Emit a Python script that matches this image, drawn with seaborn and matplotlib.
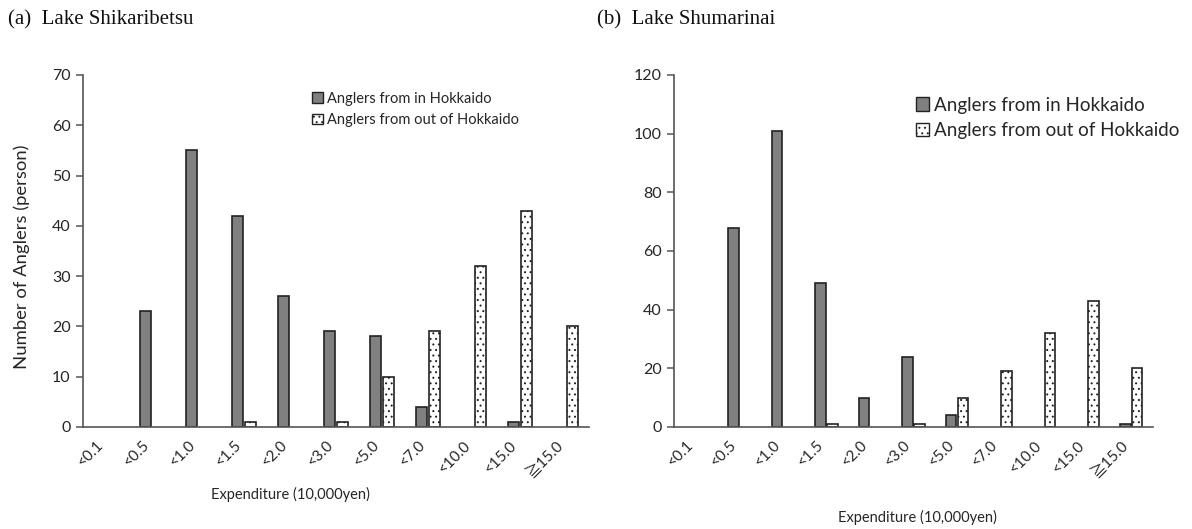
import matplotlib
matplotlib.use("Agg")
import matplotlib.pyplot as plt
from matplotlib.patches import Patch
import seaborn as sns
import pandas as pd

# Expenditure classes (10,000 yen)
categories = ["<0.1", "<0.5", "<1.0", "<1.5", "<2.0", "<3.0", "<5.0",
              "<7.0", "<10.0", "<15.0", "≧15.0"]

# (a) Lake Shikaribetsu
shika_in = [0, 23, 55, 42, 26, 19, 18, 4, 0, 1, 0]
shika_out = [0, 0, 0, 1, 0, 1, 10, 19, 32, 43, 20]

# (b) Lake Shumarinai
shuma_in = [0, 68, 101, 49, 10, 24, 4, 0, 0, 0, 1]
shuma_out = [0, 0, 0, 1, 0, 1, 10, 19, 32, 43, 20]

groups = ["Anglers from in Hokkaido", "Anglers from out of Hokkaido"]
yticks_a = [0, 10, 20, 30, 40, 50, 60, 70]
yticks_b = [0, 20, 40, 60, 80, 100, 120]


def long_form(v_in, v_out):
    return pd.DataFrame({
        "Expenditure": categories * 2,
        "Anglers": list(v_in) + list(v_out),
        "Group": [groups[0]] * len(categories) + [groups[1]] * len(categories),
    })


sns.set_theme(style="white")
plt.rcParams["font.family"] = ["Lato", "Noto Sans CJK JP"]
plt.rcParams["hatch.linewidth"] = 0.7
plt.rcParams["hatch.color"] = "#333333"

W, H = 1192, 529
fig = plt.figure(figsize=(W / 100, H / 100), dpi=100)

axis_col = "#555555"
text_col = "#262626"
palette = {groups[0]: "#808080", groups[1]: "#ffffff"}


def draw_panel(rect, v_in, v_out, yticks, ymax):
    ax = fig.add_axes([rect[0] / W, 1 - rect[3] / H,
                       (rect[2] - rect[0]) / W, (rect[3] - rect[1]) / H])
    sns.barplot(data=long_form(v_in, v_out), x="Expenditure", y="Anglers",
                hue="Group", palette=palette, order=categories,
                hue_order=groups, width=0.54, gap=0.1,
                edgecolor="#222222", linewidth=1.2, legend=False, ax=ax)
    for bar in ax.containers[1]:
        bar.set_hatch("...")
    # empty classes leave no mark on the baseline
    for cont in ax.containers:
        for bar in cont:
            if bar.get_height() == 0:
                bar.set_visible(False)
    ax.set_ylim(0, ymax)
    ax.set_yticks(yticks)
    ax.set_xlim(-0.5, len(categories) - 0.5)
    for side in ("top", "right"):
        ax.spines[side].set_visible(False)
    for side in ("left", "bottom"):
        ax.spines[side].set_color(axis_col)
        ax.spines[side].set_linewidth(1.2)
    ax.tick_params(axis="y", direction="out", length=5, width=1.1,
                   color=axis_col, labelsize=11.5, labelcolor=text_col, pad=4,
                   left=True)
    ax.tick_params(axis="x", length=0, pad=8)
    ax.set_xticks(range(len(categories)))
    ax.set_xticklabels(categories, rotation=45, ha="right", va="top",
                       fontsize=11, color=text_col)
    ax.set_ylabel("")
    ax.set_xlabel("")
    handles = [Patch(facecolor="#808080", edgecolor="#222222", linewidth=1.0),
               Patch(facecolor="white", edgecolor="#222222", linewidth=1.0,
                     hatch="...")]
    return ax, handles


axL, hL = draw_panel((83, 75, 589, 427), shika_in, shika_out, yticks_a, 70)
axR, hR = draw_panel((674, 75, 1153, 427), shuma_in, shuma_out, yticks_b, 120)

axL.legend(hL, groups, frameon=False, fontsize=10.5, handlelength=0.75,
           handleheight=0.75, handletextpad=0.3, labelspacing=0.5,
           loc="upper left", bbox_to_anchor=((306 - 83) / 506, 1 - (86 - 75) / 352),
           labelcolor=text_col, borderaxespad=0)
axR.legend(hR, groups, frameon=False, fontsize=13.5, handlelength=0.7,
           handleheight=0.7, handletextpad=0.3, labelspacing=0.45,
           loc="upper left", bbox_to_anchor=((908 - 674) / 479, 1 - (89 - 75) / 352),
           labelcolor=text_col, borderaxespad=0)

axL.set_ylabel("Number of Anglers (person)", fontsize=13.3, color=text_col)
axL.yaxis.set_label_coords((30 - 83) / 506, 0.485)

axL.set_xlabel("Expenditure (10,000yen)", fontsize=10.5, color=text_col, va="center")
axL.xaxis.set_label_coords((290 - 83) / 506, (427 - 494) / 352)
axR.set_xlabel("Expenditure (10,000yen)", fontsize=10.5, color=text_col, va="center")
axR.xaxis.set_label_coords((917 - 674) / 479, (427 - 517) / 352)

serif = ["Liberation Serif", "DejaVu Serif"]
fig.text(8 / W, 1 - 20 / H, "(a)  Lake Shikaribetsu", family=serif,
         fontsize=15, va="center", ha="left", color="#111111")
fig.text(597 / W, 1 - 20 / H, "(b)  Lake Shumarinai", family=serif,
         fontsize=15, va="center", ha="left", color="#111111")

fig.savefig("out.png", dpi=100)
